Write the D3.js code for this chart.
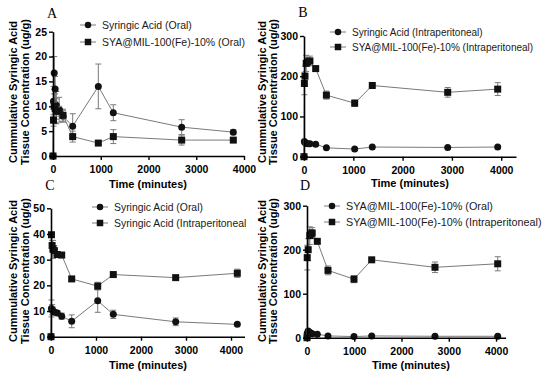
<!DOCTYPE html>
<html>
<head>
<meta charset="utf-8">
<script src="https://cdn.jsdelivr.net/npm/d3@7"></script>
<style>
  body { margin: 0; background: #fff; }
  svg { display: block; font-family: Arial, "Liberation Sans", sans-serif; }
</style>
</head>
<body>
<script>
// ---- data (times as they sit on each panel's axis) ----
const xTicks = [0, 1000, 2000, 3000, 4000];

const timesA = [0, 10, 25, 45, 70, 130, 210, 412, 949, 1263, 2695, 3776];
const saOralA = [0, 11, 16.7, 13.5, 10.2, 9.3, 8.0, 6.0, 14.0, 8.7, 5.8, 4.8];
const saOralErrA = [0, 3, 3.3, 2.5, 2.8, 2.5, 1.2, 2.5, 4.5, 1.6, 1.5, 0.5];
const syaOralA = [0, 7.2, 10.0, 9.5, 9.0, 9.0, 8.2, 3.9, 2.6, 3.9, 3.2, 3.2];
const syaOralErrA = [0, 1.2, 2.5, 3, 2.5, 1, 1.2, 1.1, 0.3, 1.4, 1.0, 0.5];

const timesB = [0, 8, 20, 45, 75, 120, 237, 454, 1028, 1385, 2915, 3929];
const saIpB = [0, 38, 35, 33, 32, 32, 31, 22, 19, 24, 23, 24];
const saIpErrB = [0, 3, 3, 2, 2, 2, 2, 1, 1, 1, 1, 1.5];
const syaIpB = [0, 182, 200, 232, 236, 238, 219, 153, 133, 177, 160, 168];
const syaIpErrB = [0, 28, 25, 20, 10, 12, 5, 10, 8, 3, 12, 16];

const timesC = [0, 10, 25, 45, 75, 140, 238, 460, 1038, 1384, 2771, 4140];
const saOralC = [0, 11, 10.5, 10, 9.6, 9.2, 8.0, 6.0, 14.0, 8.7, 5.8, 4.8];
const saOralErrC = [0, 3.3, 2, 1.5, 1, 1, 1.2, 2.5, 4.5, 1.6, 1.5, 0.5];
const saIpC = [0, 39.7, 35.5, 34, 33.5, 32, 31.8, 22.5, 19.7, 24.2, 23, 24.7];
const saIpErrC = [0, 1, 2, 3.5, 2, 1, 1, 0.8, 1.5, 0.8, 0.8, 1.6];

const timesD = [0, 5, 25, 60, 85, 110, 218, 444, 994, 1369, 2708, 4035];
const syaOralD = [0, 10, 15, 12, 10, 9, 8, 4, 2.6, 4, 3.2, 3.2];
const syaOralErrD = [0, 2, 4, 3, 3, 2, 1, 1, 0.3, 1.4, 1, 0.5];
const syaIpD = [0, 182, 200, 232, 236, 238, 219, 153, 133, 177, 160, 168];
const syaIpErrD = [0, 28, 25, 20, 10, 12, 5, 10, 8, 3, 12, 16];

const panels = [
  { letter: "A", lx: 52, ly: 18, xMax: 4000, xr: [53, 244], yMax: 25, yStep: 5, yr: [156, 31.7],
    titleX: 148, titleY: 188, yt: [13, 25, 92], leg: [88, 25, 17], legFont: 10.5,
    series: [
      { name: "Syringic Acid (Oral)", shape: "circle", t: timesA, v: saOralA, e: saOralErrA },
      { name: "SYA@MIL-100(Fe)-10% (Oral)", shape: "square", t: timesA, v: syaOralA, e: syaOralErrA }
    ] },
  { letter: "B", lx: 303, ly: 17, xMax: 4300, xr: [304, 516], yMax: 300, yStep: 100, yr: [156.7, 36],
    titleX: 410, titleY: 187, yt: [262, 273, 92], leg: [338, 32, 15], legFont: 10,
    series: [
      { name: "Syringic Acid (Intraperitoneal)", shape: "circle", t: timesB, v: saIpB, e: saIpErrB },
      { name: "SYA@MIL-100(Fe)-10% (Intraperitoneal)", shape: "square", t: timesB, v: syaIpB, e: syaIpErrB }
    ] },
  { letter: "C", lx: 50, ly: 190, xMax: 4300, xr: [51, 244.5], yMax: 50, yStep: 10, yr: [336.7, 208.3],
    titleX: 148, titleY: 369, yt: [13, 25, 271], leg: [100, 207, 16], legFont: 10.4,
    series: [
      { name: "Syringic Acid (Oral)", shape: "circle", t: timesC, v: saOralC, e: saOralErrC },
      { name: "Syringic Acid (Intraperitoneal", shape: "square", t: timesC, v: saIpC, e: saIpErrC }
    ] },
  { letter: "D", lx: 305, ly: 190, xMax: 4200, xr: [307, 505.5], yMax: 300, yStep: 100, yr: [337.7, 205.7],
    titleX: 411, titleY: 369, yt: [262, 273, 271], leg: [332, 206, 16], legFont: 10.8,
    series: [
      { name: "SYA@MIL-100(Fe)-10% (Oral)", shape: "circle", t: timesD, v: syaOralD, e: syaOralErrD },
      { name: "SYA@MIL-100(Fe)-10% (Intraperitoneal)", shape: "square", t: timesD, v: syaIpD, e: syaIpErrD }
    ] }
];

const svg = d3.select("body").append("svg")
  .attr("width", 550).attr("height", 379);

const lineGrey = "#7a7a7a";

function marker(g, shape, cx, cy, size) {
  if (shape === "circle") {
    g.append("circle").attr("cx", cx).attr("cy", cy).attr("r", size / 2).attr("fill", "#111");
  } else {
    g.append("rect").attr("x", cx - size / 2).attr("y", cy - size / 2)
      .attr("width", size).attr("height", size).attr("fill", "#111");
  }
}

function drawPanel(p) {
  const x = d3.scaleLinear().domain([0, p.xMax]).range(p.xr);
  const y = d3.scaleLinear().domain([0, p.yMax]).range(p.yr);
  const g = svg.append("g");

  // y axis title, two lines
  ["Cummulative Syringic Acid", "Tissue Concentration (ug/g)"].forEach((s, i) => {
    g.append("text")
      .attr("transform", `translate(${p.yt[i]},${p.yt[2]}) rotate(-90)`)
      .attr("text-anchor", "middle").attr("dy", "0.36em")
      .attr("font-size", 11).attr("font-weight", "bold")
      .text(s);
  });

  p.series.forEach(s => {
    const pts = s.t.map((t, i) => ({ t, v: s.v[i], e: s.e[i] }));
    g.append("path").datum(pts)
      .attr("fill", "none").attr("stroke", lineGrey).attr("stroke-width", 1)
      .attr("d", d3.line().x(d => x(d.t)).y(d => y(d.v)));

    const eb = g.append("g").attr("stroke", lineGrey).attr("stroke-width", 1);
    pts.filter(d => d.e > 0).forEach(d => {
      const cx = x(d.t), y1 = y(d.v + d.e), y2 = y(Math.max(0, d.v - d.e));
      eb.append("line").attr("x1", cx).attr("x2", cx).attr("y1", y1).attr("y2", y2);
      eb.append("line").attr("x1", cx - 3).attr("x2", cx + 3).attr("y1", y1).attr("y2", y1);
      eb.append("line").attr("x1", cx - 3).attr("x2", cx + 3).attr("y1", y2).attr("y2", y2);
    });

    pts.forEach(d => marker(g, s.shape, x(d.t), y(d.v), 7));
  });

  // axes
  const xa = g.append("g").attr("transform", `translate(0,${p.yr[0]})`)
    .call(d3.axisBottom(x).tickValues(xTicks).tickFormat(d3.format("d"))
      .tickSize(4).tickSizeOuter(0).tickPadding(6));
  const ya = g.append("g").attr("transform", `translate(${p.xr[0]},0)`)
    .call(d3.axisLeft(y).tickValues(d3.range(0, p.yMax + 1, p.yStep)).tickFormat(d3.format("d"))
      .tickSize(4).tickSizeOuter(0).tickPadding(2));
  [xa, ya].forEach(a => {
    a.select(".domain").attr("stroke", "#000").attr("stroke-width", 1.6);
    a.selectAll(".tick line").attr("stroke", "#000").attr("stroke-width", 1.4);
    a.selectAll("text").attr("font-size", 10.5).attr("font-weight", "bold").attr("fill", "#000")
      .attr("font-family", "Arial, 'Liberation Sans', sans-serif");
  });

  g.append("text").attr("x", p.titleX).attr("y", p.titleY)
    .attr("text-anchor", "middle").attr("font-size", 11).attr("font-weight", "bold")
    .text("Time (minutes)");

  // panel letter
  g.append("text").attr("x", p.lx).attr("y", p.ly)
    .attr("text-anchor", "middle").attr("font-size", 14)
    .attr("font-family", "'Liberation Serif', 'Times New Roman', serif")
    .text(p.letter);

  // legend
  const [mx, my, gap] = p.leg;
  p.series.forEach((s, i) => {
    const cy = my + i * gap;
    g.append("line").attr("x1", mx - 8).attr("x2", mx + 8).attr("y1", cy).attr("y2", cy)
      .attr("stroke", lineGrey).attr("stroke-width", 1);
    marker(g, s.shape, mx, cy, 6.5);
    g.append("text").attr("x", mx + 14).attr("y", cy).attr("dy", "0.35em")
      .attr("font-size", p.legFont).attr("fill", "#1a1a1a").text(s.name);
  });
}

panels.forEach(drawPanel);
</script>
</body>
</html>
